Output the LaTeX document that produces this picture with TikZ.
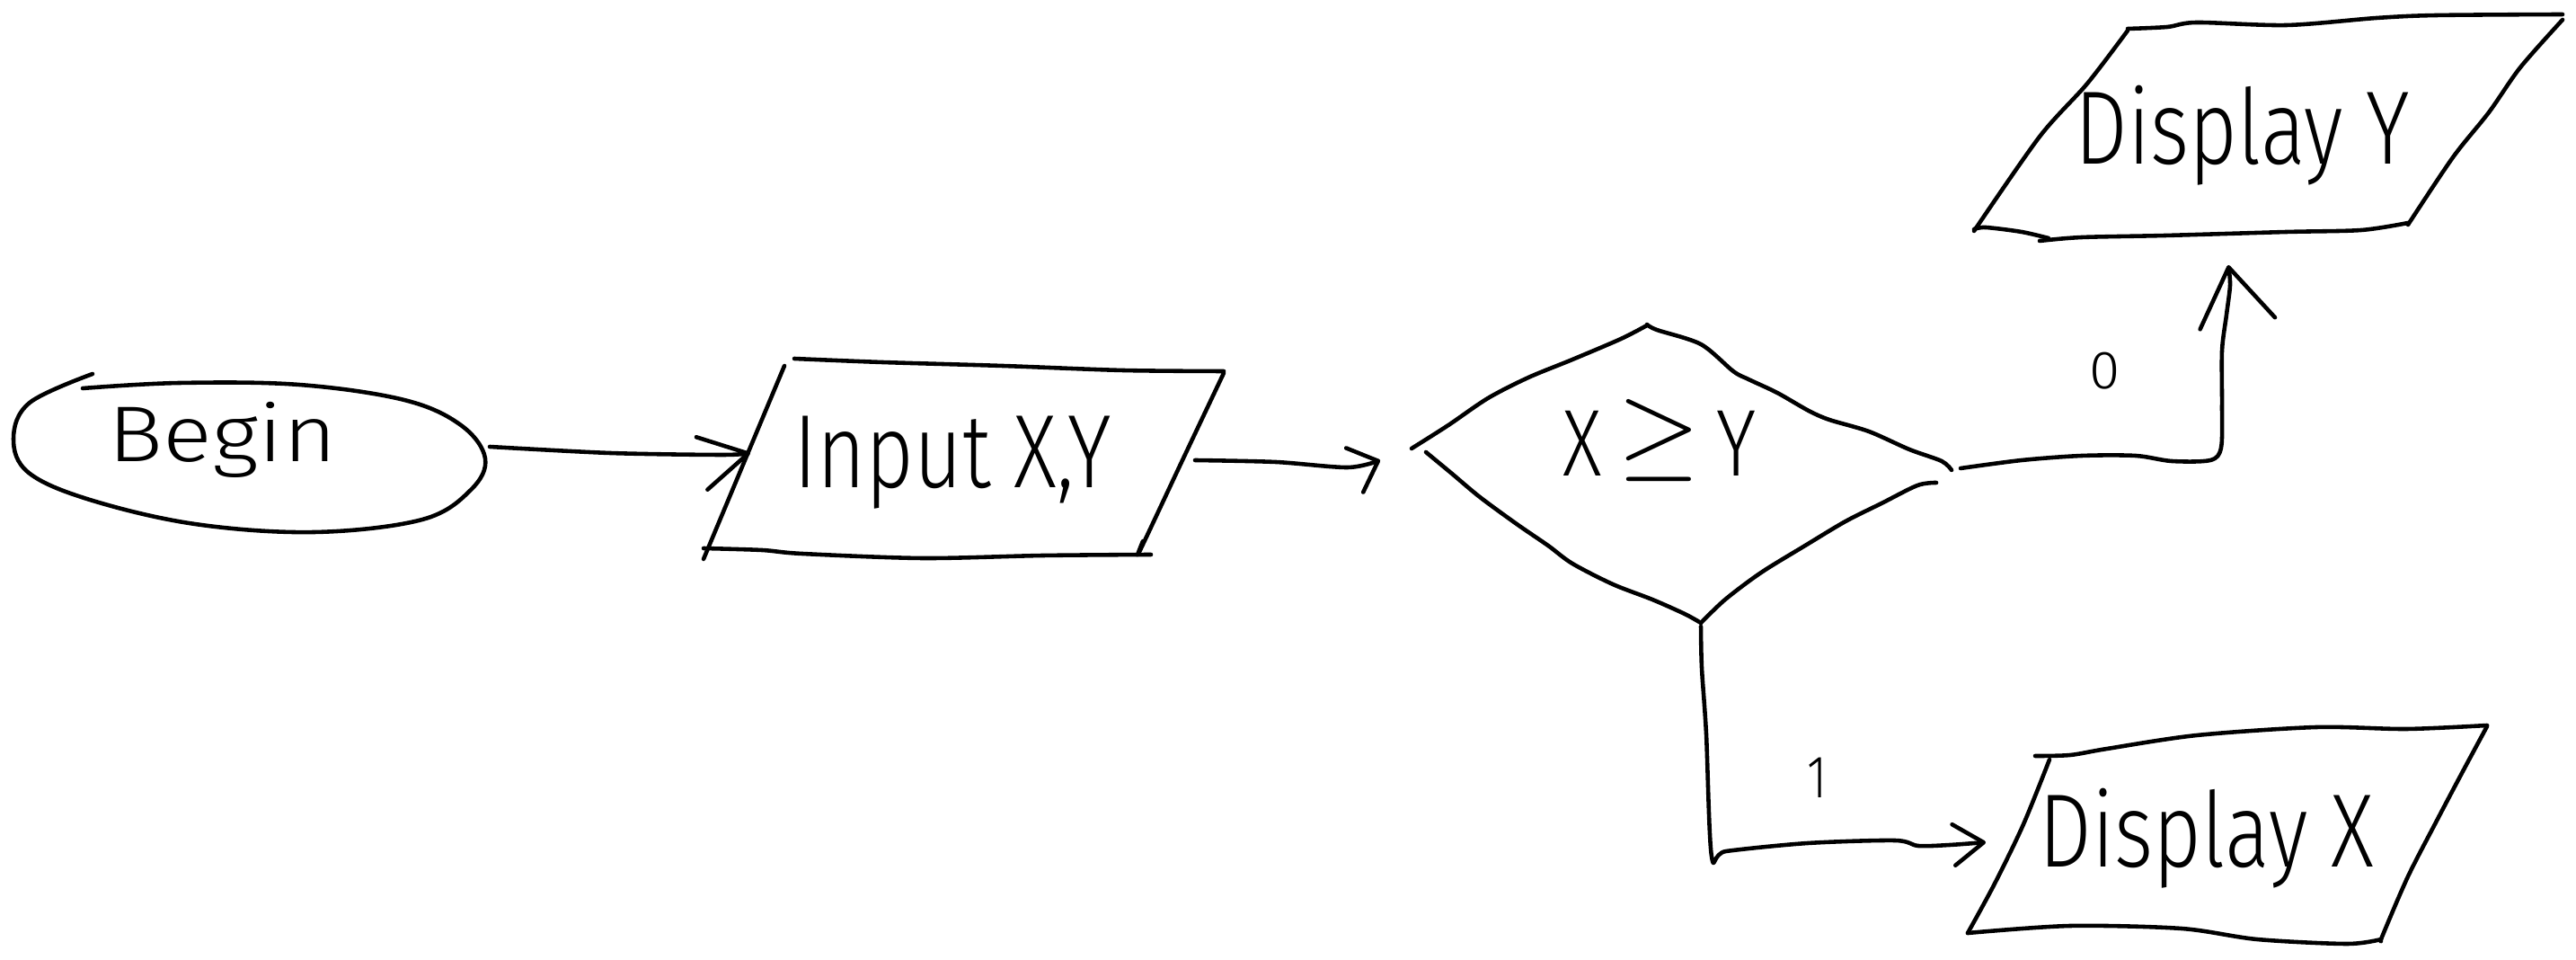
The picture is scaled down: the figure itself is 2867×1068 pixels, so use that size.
\documentclass[tikz,border=0pt]{standalone}
\usepackage{fontspec}
\setmainfont{Fira Sans Light}[FakeStretch=0.8]
\usetikzlibrary{arrows.meta}
\begin{document}
\begin{tikzpicture}[x=0.01cm,y=-0.01cm,
  pen/.style={line width=1.3pt, line cap=round, line join=round},
  lbl/.style={anchor=base, inner sep=0pt, font=\fontsize{33}{38}\selectfont},
  tag/.style={anchor=center, inner sep=0pt},
  tip/.style 2 args={-{Straight Barb[length=#1, width=#2, round]}}
]
% canvas
\fill[white] (0,0) rectangle (2867,1068);
\useasboundingbox (0,0) rectangle (2867,1068);

% ---- Begin (terminal) ----
\draw[pen] plot[smooth, tension=0.6] coordinates {
  (92,432) (200,426) (333,428) (450,445) (513,473) (540,510) (524,545)
  (470,578) (350,592) (217,583) (100,556) (32,526) (15,488) (33,448)
  (103,416)};
\node[lbl, font=\fontsize{25}{30}\selectfont] (begin) at (248,514) {\scalebox{1.45}[1]{Begin}};
\coordinate (begin-out) at (545,497);

% ---- Input X,Y (data) ----
\draw[pen] plot[smooth, tension=0.5] coordinates {
  (884,399) (982,403) (1116,407) (1250,412) (1362,413)};
\draw[pen] (873,407) -- (783,622);
\draw[pen] plot[smooth, tension=0.5] coordinates {
  (783,610) (848,612) (893,616) (1027,621) (1161,618) (1281,617)};
\draw[pen] plot[smooth, tension=0.5] coordinates {
  (1362,415) (1316,512) (1268,614) (1272,602)};
\node[lbl] (input) at (1060,543) {Input X,Y};
\coordinate (input-in) at (835,504);
\coordinate (input-out) at (1330,512);

% ---- X >= Y (decision) ----
\draw[pen] plot[smooth, tension=0.5] coordinates {
  (1571,499) (1612,473) (1656,443) (1701,420) (1750,400) (1804,377) (1833,362)};
\draw[pen] plot[smooth, tension=0.5] coordinates {
  (1833,361) (1844,367) (1893,383) (1929,413) (1946,422) (1978,437)
  (2013,457) (2036,467) (2080,480) (2125,500) (2161,513) (2172,523)};
\draw[pen] plot[smooth, tension=0.5] coordinates {
  (1587,503) (1616,527) (1647,553) (1688,583) (1723,607) (1750,627)
  (1795,650) (1839,667) (1875,683) (1893,693)};
\draw[pen] plot[smooth, tension=0.5] coordinates {
  (2155,537) (2134,540) (2094,560) (2054,580) (2009,607) (1960,637)
  (1920,667) (1893,693)};
\node[lbl, font=\fontsize{30}{36}\selectfont] (test) at (1847,530)
  {X\,\raisebox{3pt}{\scalebox{1.35}{$\geq$}}\,Y};
\coordinate (test-in) at (1536,512);
\coordinate (test-right) at (2182,521);
\coordinate (test-bottom) at (1893,697);

% ---- Display Y (output) ----
\draw[pen] plot[smooth, tension=0.5] coordinates {
  (2368,32) (2412,30) (2445,25) (2545,28) (2645,20) (2712,17) (2852,16)};
\draw[pen] plot[smooth, tension=0.5] coordinates {
  (2368,34) (2323,93) (2270,152) (2197,257)};
\draw[pen] plot[smooth, tension=0.5] coordinates {
  (2197,255) (2210,253) (2250,258) (2280,265)};
\draw[pen] plot[smooth, tension=0.5] coordinates {
  (2270,268) (2317,264) (2410,262) (2545,258) (2628,256) (2680,248)};
\draw[pen] plot[smooth, tension=0.5] coordinates {
  (2852,22) (2805,75) (2770,125) (2730,175) (2680,250)};
\node[lbl] (showy) at (2496,183) {Display Y};
\coordinate (showy-in) at (2480,295);

% ---- Display X (output) ----
\draw[pen] plot[smooth, tension=0.5] coordinates {
  (2265,841) (2304,840) (2345,833) (2445,818) (2578,809) (2678,811) (2768,807)};
\draw[pen] plot[smooth, tension=0.5] coordinates {
  (2281,845) (2252,917) (2220,983) (2190,1038)};
\draw[pen] plot[smooth, tension=0.5] coordinates {
  (2190,1038) (2304,1030) (2428,1033) (2512,1045) (2612,1050) (2650,1045)};
\draw[pen] plot[smooth, tension=0.5] coordinates {
  (2768,808) (2740,860) (2712,913) (2680,975) (2652,1040) (2650,1047)};
\node[lbl] (showx) at (2456,965) {Display X};
\coordinate (showx-in) at (2210,937);

% ---- connectors ----
\draw[pen, tip={15pt}{17pt}] plot[smooth, tension=0.5] coordinates {
  (begin-out) (679,504) (804,506) (input-in)};
\draw[pen, tip={8pt}{15pt}] plot[smooth, tension=0.5] coordinates {
  (input-out) (1420,514) (1500,520) (test-in)};
\draw[pen, tip={18pt}{24pt}] plot[smooth, tension=0.5] coordinates {
  (test-right) (2250,512) (2317,507) (2377,507) (2417,513) (2460,512)
  (2472,498) (2473,450) (2473,390) (2478,350) (2482,317) (showy-in)};
\draw[pen, tip={9.5pt}{13pt}] plot[smooth, tension=0.5] coordinates {
  (test-bottom) (1894,743) (1899,817) (1905,953) (1921,947) (2012,938)
  (2109,935) (2135,941) (2170,940) (showx-in)};

% ---- branch labels ----
\node[tag, font=\fontsize{17}{20}\selectfont] (no) at (2343,413) {\scalebox{1.3}[1]{0}};
\node[tag, font=\fontsize{19}{22}\selectfont] (yes) at (2023,865) {1};
\end{tikzpicture}
\end{document}
